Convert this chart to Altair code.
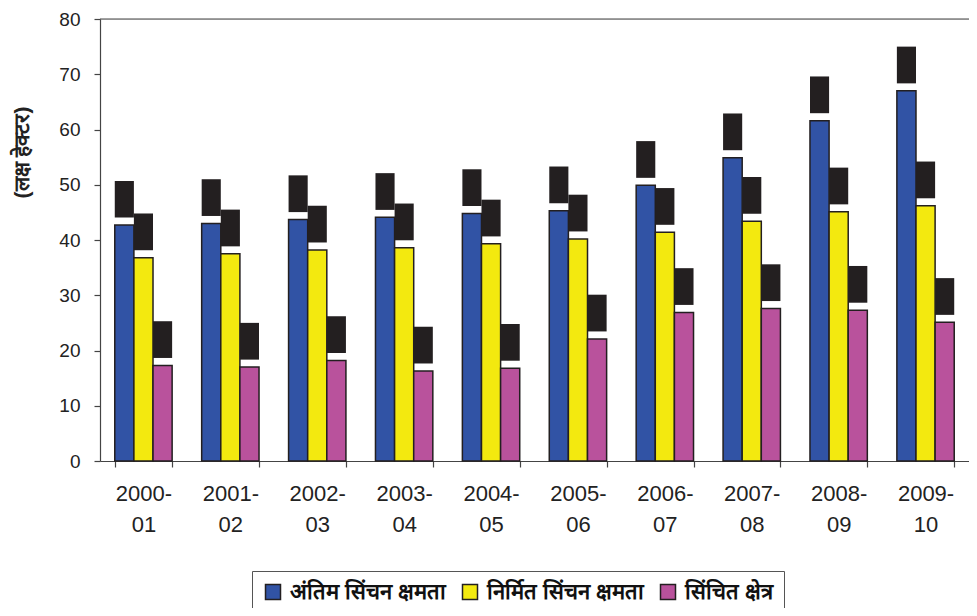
import altair as alt
import pandas as pd

years = ["2000-01", "2001-02", "2002-03", "2003-04", "2004-05",
         "2005-06", "2006-07", "2007-08", "2008-09", "2009-10"]
series = ["अंतिम सिंचन क्षमता", "निर्मित सिंचन क्षमता", "सिंचित क्षेत्र"]
ultimate = [42.7, 43.0, 43.7, 44.1, 44.8, 45.3, 49.9, 54.9, 61.6, 67.0]
created = [36.8, 37.5, 38.2, 38.6, 39.3, 40.2, 41.4, 43.4, 45.1, 46.2]
irrigated = [17.3, 17.0, 18.2, 16.3, 16.8, 22.1, 26.9, 27.6, 27.3, 25.1]
colors = ["#3153a5", "#f3e90f", "#b9529c"]
y_ticks = [0, 10, 20, 30, 40, 50, 60, 70, 80]

rows = []
for s, vals in zip(series, [ultimate, created, irrigated]):
    for yr, v in zip(years, vals):
        rows.append({"year": yr, "series": s, "value": v})
df = pd.DataFrame(rows)

W, H = 869, 442
TOP = 11
FONT = "Liberation Sans"
AX = "#444444"

x_enc = alt.X(
    "year:N", sort=years,
    scale=alt.Scale(paddingInner=0.34, paddingOuter=0.17),
    axis=alt.Axis(
        title=None, labelAngle=0, tickBand="extent",
        labelExpr="[slice(datum.label, 0, 5), slice(datum.label, 5)]",
        labelFontSize=22, labelLineHeight=31, labelPadding=16,
        labelColor="#222222", labelFont=FONT,
        tickSize=6, tickColor=AX, domainColor=AX, domainWidth=1.2, tickWidth=1.2,
    ),
)
xoff = alt.XOffset("series:N", sort=series, scale=alt.Scale(paddingInner=0, paddingOuter=0))
y_scale = alt.Scale(domain=[0, 80], nice=False)

bars = alt.Chart(df).mark_bar(stroke="#231f20", strokeWidth=1.5).encode(
    x=x_enc,
    xOffset=xoff,
    y=alt.Y(
        "value:Q", scale=y_scale,
        axis=alt.Axis(
            values=y_ticks, title="(लक्ष हेक्टर)", grid=False,
            labelFontSize=19, labelFont=FONT, labelColor="#222222", labelPadding=14,
            tickSize=6, tickColor=AX, domainColor=AX, domainWidth=1.2, tickWidth=1.2,
            titleFontSize=21, titleFontWeight="bold", titleColor="#222222",
            titleX=-78, titleY=152 - 8 - TOP, titleBaseline="middle", titleAngle=-90,
        ),
    ),
    color=alt.Color(
        "series:N", sort=series,
        scale=alt.Scale(domain=series, range=colors),
        legend=alt.Legend(
            title=None, orient="none", legendX=152, legendY=571 - 8 - TOP,
            direction="horizontal", symbolType="square", symbolSize=225,
            symbolStrokeColor="#231f20", symbolStrokeWidth=1.5,
            labelFontSize=22, labelFontWeight="bold", labelColor="#111111",
            labelOffset=6, columnPadding=12, padding=10,
            strokeColor="#555555", fillColor="white",
        ),
    ),
)

boxes = alt.Chart(df).transform_calculate(
    b1="datum.value + 1.35", b2="datum.value + 8.0"
).mark_bar(color="#231f20").encode(
    x=alt.X("year:N", sort=years),
    xOffset=xoff,
    y=alt.Y("b1:Q", scale=y_scale),
    y2="b2:Q",
)

frame = alt.Chart(pd.DataFrame({"a": [0]})).mark_rule(color=AX, strokeWidth=1.2).encode(
    y=alt.value(0), x=alt.value(0), x2=alt.value(W)
)

chart = alt.layer(bars, boxes, frame).properties(
    width=W, height=H,
    padding={"left": 92, "top": TOP, "right": 0, "bottom": 600 - TOP - H},
    autosize=alt.AutoSizeParams(type="none"),
).configure_view(stroke=None).configure(font=FONT)

chart.save("out.html", embed_options={"renderer": "svg", "actions": False})
